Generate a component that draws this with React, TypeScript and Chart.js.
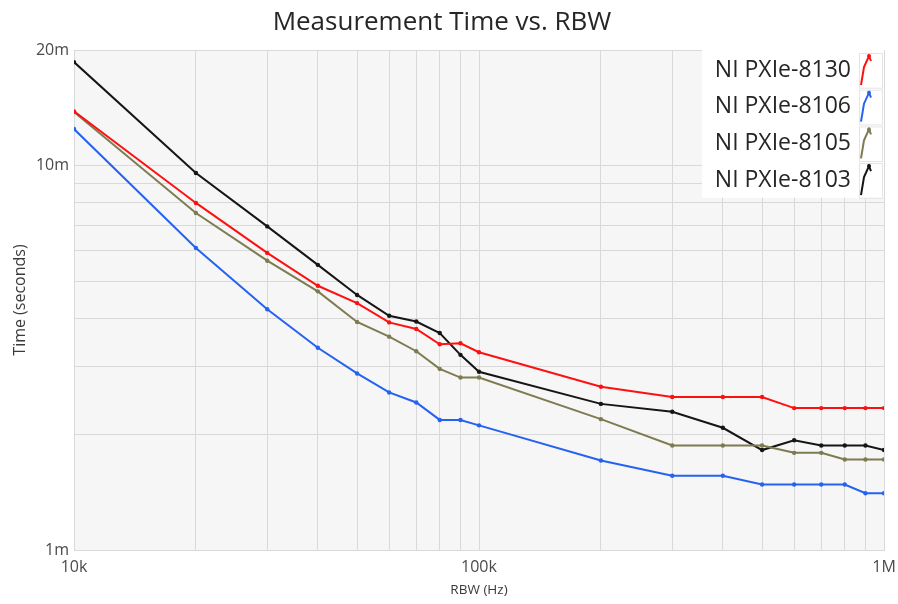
import React, { useEffect, useRef } from "react";
import { Chart, registerables } from "chart.js";

Chart.register(...registerables);

const rbw = [10000, 20000, 30000, 40000, 50000, 60000, 70000, 80000, 90000, 100000, 200000, 300000, 400000, 500000, 600000, 700000, 800000, 900000, 1000000];

const pxie8130 = [13.85, 8.0, 5.93, 4.87, 4.39, 3.91, 3.76, 3.43, 3.45, 3.27, 2.66, 2.5, 2.5, 2.5, 2.34, 2.34, 2.34, 2.34, 2.34];
const pxie8106 = [12.46, 6.11, 4.23, 3.36, 2.88, 2.57, 2.42, 2.18, 2.18, 2.11, 1.71, 1.56, 1.56, 1.48, 1.48, 1.48, 1.48, 1.405, 1.405];
const pxie8105 = [13.8, 7.53, 5.66, 4.71, 3.92, 3.59, 3.29, 2.96, 2.81, 2.81, 2.19, 1.87, 1.87, 1.87, 1.79, 1.79, 1.72, 1.72, 1.72];
const pxie8103 = [18.6, 9.57, 6.95, 5.52, 4.61, 4.07, 3.93, 3.67, 3.22, 2.91, 2.4, 2.29, 2.08, 1.82, 1.93, 1.87, 1.87, 1.87, 1.82];

const seriesNames = ["NI PXIe-8130", "NI PXIe-8106", "NI PXIe-8105", "NI PXIe-8103"];
const seriesColors = ["#ff1010", "#2562f0", "#7d7b50", "#151515"];
const seriesValues = [pxie8130, pxie8106, pxie8105, pxie8103];

const xTickValues = [10000, 20000, 30000, 40000, 50000, 60000, 70000, 80000, 90000, 100000, 200000, 300000, 400000, 500000, 600000, 700000, 800000, 900000, 1000000];
const xTickLabels: Record<number, string> = { 10000: "10k", 100000: "100k", 1000000: "1M" };
const yTickValues = [0.001, 0.002, 0.003, 0.004, 0.005, 0.006, 0.007, 0.008, 0.009, 0.01, 0.02];
const yTickLabels: Record<string, string> = { "0.001": "1m", "0.01": "10m", "0.02": "20m" };

const FONT = "'Open Sans', 'Noto Sans', sans-serif";

const bgPlugin = {
  id: "plotBg",
  beforeDraw(chart: any) {
    const { ctx, chartArea } = chart;
    ctx.save();
    ctx.fillStyle = "#f6f6f6";
    ctx.fillRect(chartArea.left, chartArea.top, chartArea.right - chartArea.left, chartArea.bottom - chartArea.top);
    ctx.restore();
  },
};

const legendPlugin = {
  id: "customLegend",
  afterDraw(chart: any) {
    const { ctx, chartArea } = chart;
    const boxW = 182;
    const rowH = 36.7;
    const left = chartArea.right - boxW;
    const top = chartArea.top;
    ctx.save();
    ctx.fillStyle = "#ffffff";
    ctx.fillRect(left, top, boxW, rowH * seriesNames.length + 1);
    ctx.font = `23px ${FONT}`;
    ctx.textAlign = "right";
    ctx.textBaseline = "middle";
    seriesNames.forEach((name, i) => {
      const cy = top + 20 + i * rowH;
      ctx.fillStyle = "#262626";
      ctx.fillText(name, chartArea.right - 33, cy);
      const sx = chartArea.right - 25;
      const sTop = cy - 17;
      ctx.strokeStyle = "#e4e4e4";
      ctx.lineWidth = 1;
      ctx.strokeRect(sx + 0.5, sTop + 0.5, 23, rowH - 2);
      ctx.strokeStyle = seriesColors[i];
      ctx.fillStyle = seriesColors[i];
      ctx.lineWidth = 2;
      ctx.beginPath();
      ctx.moveTo(sx + 2, sTop + 32);
      ctx.lineTo(sx + 5, sTop + 14);
      ctx.lineTo(sx + 10, sTop + 3);
      ctx.lineTo(sx + 12, sTop + 8);
      ctx.stroke();
      ctx.beginPath();
      ctx.arc(sx + 10, sTop + 3, 2, 0, Math.PI * 2);
      ctx.fill();
    });
    ctx.restore();
  },
};

export default function App() {
  const ref = useRef<HTMLCanvasElement | null>(null);
  useEffect(() => {
    document.body.style.margin = "0";
    const canvas = ref.current!;
    const chart = new Chart(canvas, {
      type: "line",
      data: {
        datasets: seriesNames.map((name, i) => ({
          label: name,
          data: rbw.map((x, j) => ({ x, y: seriesValues[i][j] / 1000 })),
          borderColor: seriesColors[i],
          backgroundColor: seriesColors[i],
          borderWidth: 2,
          pointRadius: 2.2,
          pointBorderWidth: 0,
          pointBackgroundColor: seriesColors[i],
          tension: 0,
          fill: false,
        })),
      },
      options: {
        animation: false,
        responsive: false,
        maintainAspectRatio: false,
        layout: { padding: { left: 0, right: 14, top: 0, bottom: 0 } },
        plugins: {
          legend: { display: false },
          tooltip: { enabled: false },
          title: {
            display: true,
            text: "Measurement Time vs. RBW",
            color: "#262626",
            font: { family: FONT, size: 26, weight: "normal" },
            padding: { top: 7, bottom: 11.8 },
          },
        },
        scales: {
          x: {
            type: "logarithmic",
            min: 10000,
            max: 1000000,
            afterBuildTicks: (s: any) => {
              s.ticks = xTickValues.map((v) => ({ value: v }));
            },
            afterFit: (s: any) => {
              s.height = 54;
              s.paddingRight = 0;
              s.paddingLeft = 0;
            },
            ticks: {
              autoSkip: false,
              maxRotation: 0,
              padding: 8,
              color: "#4a4a4a",
              font: { family: FONT, size: 16 },
              callback: (_v: any, i: number, ticks: any[]) => xTickLabels[ticks[i].value] ?? "",
            },
            grid: { color: "#d9d9d9", drawTicks: false, lineWidth: 1 },
            border: { color: "#d9d9d9" },
            title: {
              display: true,
              text: "RBW (Hz)",
              color: "#3a3a3a",
              font: { family: FONT, size: 13.5 },
              padding: { top: 0, bottom: 6 },
            },
          },
          y: {
            type: "logarithmic",
            min: 0.001,
            max: 0.02,
            afterBuildTicks: (s: any) => {
              s.ticks = yTickValues.map((v) => ({ value: v }));
            },
            afterFit: (s: any) => {
              s.width = 74;
            },
            ticks: {
              autoSkip: false,
              padding: 5,
              color: "#4a4a4a",
              font: { family: FONT, size: 16 },
              callback: (_v: any, i: number, ticks: any[]) => yTickLabels[String(ticks[i].value)] ?? "",
            },
            grid: { color: "#d9d9d9", drawTicks: false, lineWidth: 1 },
            border: { color: "#d9d9d9" },
            title: {
              display: true,
              text: "Time (seconds)",
              color: "#3a3a3a",
              font: { family: FONT, size: 16 },
              padding: { top: 11, bottom: 0 },
            },
          },
        },
      },
      plugins: [bgPlugin, legendPlugin],
    });
    return () => chart.destroy();
  }, []);
  return (
    <div style={{ position: "relative", width: 898, height: 604, background: "#fff" }}>
      <canvas ref={ref} width={898} height={604} style={{ display: "block", width: 898, height: 604 }} />
    </div>
  );
}
